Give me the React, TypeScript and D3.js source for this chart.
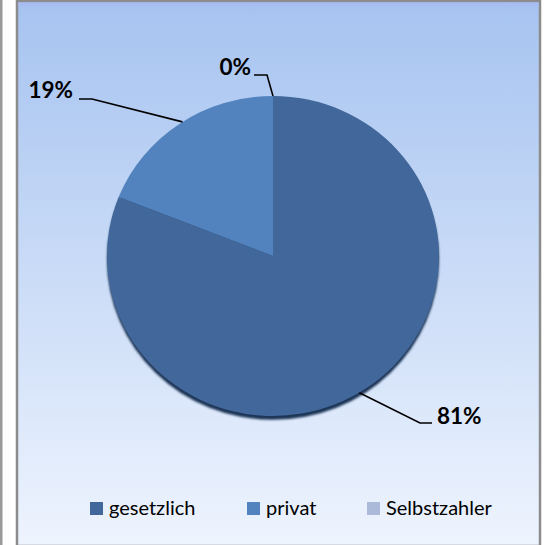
import React from "react";
import * as d3 from "d3";

const categories = ["gesetzlich", "privat", "Selbstzahler"];
const values = [81, 19, 0];
const labels = ["81%", "19%", "0%"];
const colors = ["#42679a", "#5283be", "#aabad8"];

const W = 555;
const H = 545;

export default function App() {
  const cx = 273;
  const cy = 256;
  const rx = 166;
  const ry = 160;
  const pie = d3.pie<number>().sort(null).value((d) => d)(values);
  const arc = d3.arc<d3.PieArcDatum<number>>().innerRadius(0).outerRadius(rx);

  const onEdge = (a: number) => [cx + rx * Math.sin(a), cy - ry * Math.cos(a)];
  const midA = (d: d3.PieArcDatum<number>) => (d.startAngle + d.endAngle) / 2;

  const e0 = onEdge(midA(pie[0]) + 0.05);
  const e1 = onEdge(midA(pie[1]) + 0.02);
  const e2 = onEdge(midA(pie[2]));

  const leaders = [
    { pts: [e0, [420, 423], [432, 423]], tx: 437, ty: 424, anchor: "start" },
    { pts: [e1, [92, 99], [79, 99]], tx: 73, ty: 98, anchor: "end" },
    { pts: [e2, [267, 75], [254, 75]], tx: 251, ty: 75, anchor: "end" },
  ];

  const legendX = [90, 247, 367];

  return (
    <svg
      width={W}
      height={H}
      style={{ position: "fixed", left: 0, top: 0 }}
      fontFamily="Lato, 'Open Sans', sans-serif"
    >
      <defs>
        <linearGradient id="bg" x1="0" y1="0" x2="0" y2="1">
          <stop offset="0" stopColor="#a6c3f0" />
          <stop offset="1" stopColor="#eef4fe" />
        </linearGradient>
        <linearGradient id="topband" x1="0" y1="0" x2="0" y2="1">
          <stop offset="0" stopColor="#aab8f2" />
          <stop offset="1" stopColor="#a6c3f0" stopOpacity="0" />
        </linearGradient>
        <filter id="blur" x="-10%" y="-10%" width="120%" height="120%">
          <feGaussianBlur stdDeviation="1.2" />
        </filter>
      </defs>
      <rect x={0} y={0} width={W} height={H} fill="#ffffff" />
      <rect x={0} y={0} width={2.5} height={H} fill="#9a9a9a" />
      <rect x={17} y={1} width={523} height={H} fill="url(#bg)" stroke="#8c8c8c" strokeWidth={2.5} />
      <rect x={18.5} y={2.5} width={520} height={9} fill="url(#topband)" />

      <g transform={`translate(${cx},${cy}) scale(1,${ry / rx})`}>
        <ellipse cx={0} cy={4} rx={rx} ry={rx} fill="#1d3556" filter="url(#blur)" />
        {pie.map((d, i) =>
          d.value > 0 ? <path key={categories[i]} d={arc(d) || ""} fill={colors[i]} /> : null
        )}
      </g>

      {leaders.map((l, i) => (
        <g key={i}>
          <polyline
            points={l.pts.map((p) => p.join(",")).join(" ")}
            fill="none"
            stroke="#000"
            strokeWidth={1.6}
          />
          <text
            x={l.tx}
            y={l.ty}
            textAnchor={l.anchor as any}
            fontSize={22.5}
            fontWeight="bold"
            fill="#000"
          >
            {labels[i]}
          </text>
        </g>
      ))}

      {categories.map((c, i) => (
        <g key={c}>
          <rect x={legendX[i]} y={502} width={13} height={13} fill={colors[i]} />
          <text x={legendX[i] + 19} y={515} fontSize={20} fill="#000">
            {c}
          </text>
        </g>
      ))}
    </svg>
  );
}
